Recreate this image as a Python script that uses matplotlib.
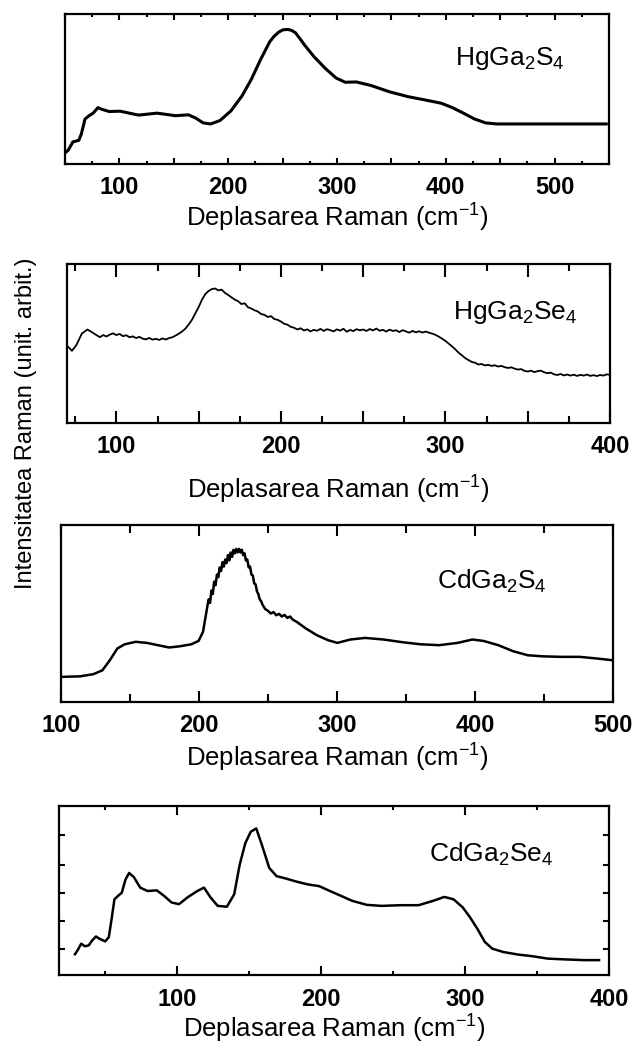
import matplotlib
matplotlib.use('Agg')
import matplotlib.pyplot as plt
from matplotlib.ticker import MultipleLocator, FixedLocator, NullLocator

plt.rcParams['font.family'] = ['Liberation Sans', 'DejaVu Sans']
plt.rcParams['mathtext.fontset'] = 'custom'
plt.rcParams['mathtext.rm'] = 'Liberation Sans'
plt.rcParams['mathtext.it'] = 'Liberation Sans:italic'
plt.rcParams['mathtext.bf'] = 'Liberation Sans:bold'

# Raman spectra, intensity in arbitrary units (0-100 of the plot height)
hgs_x = [50.5, 53, 57.2, 62.7, 65, 68.4, 71.8, 76, 80.3, 83.7, 90.5, 100.7, 117.6,
         134.6, 151.6, 163.4, 170.2, 177, 183.8, 192.3, 202.5, 212.6, 221.1, 229.6,
         238.1, 242, 246.6, 250.5, 255, 258.5, 261.8, 266, 270.3, 278.8, 289, 299.2,
         307.6, 317.8, 331.4, 348.4, 365.3, 382.3, 395.9, 406, 416.2, 426.4, 436.6,
         446.8, 547.5]
hgs_y = [7.7, 9.2, 14.7, 15.8, 20, 30, 32, 34, 37.6, 36.5, 35, 35.2, 32.6,
         33.9, 32.2, 32.8, 30.6, 27.4, 26.7, 28.9, 35.4, 45.3, 56.2, 69.4,
         81.4, 85, 88, 89.5, 89.7, 89, 87.5, 83.5, 79.2, 71.6, 63.9, 57.3,
         54.5, 54.7, 52.3, 48.1, 44.9, 42.5, 40.5, 37.6, 33.9, 30, 27.4,
         26.7, 26.7]

hgse_x = [70.7, 73, 75.7, 79, 82.4, 85.8, 88, 90, 92, 94, 96, 98, 100, 102, 104, 106,
          108, 110, 112, 114, 116, 118, 120, 122, 124, 126, 128, 130, 132, 134, 136,
          138, 140, 142, 144, 146, 148, 150, 152, 154, 156, 158, 160, 162, 164, 166,
          168, 170, 172, 174, 176, 178, 180, 182, 184, 186, 188, 190, 192, 194, 196,
          198, 200, 202, 204, 206, 208, 210, 212, 214, 216, 218, 220, 222, 224, 226,
          228, 230, 232, 234, 236, 238, 240, 242, 244, 246, 248, 250, 252, 254, 256,
          258, 260, 262, 264, 266, 268, 270, 272, 274, 276, 278, 280, 282, 284, 286,
          288, 290, 292, 294, 296, 298, 300, 302, 304, 306, 308, 310, 312, 314, 316,
          318, 320, 322, 324, 326, 328, 330, 332, 334, 336, 338, 340, 342, 344, 346,
          348, 350, 352, 354, 356, 358, 360, 362, 364, 366, 368, 370, 372, 374, 376,
          378, 380, 382, 384, 386, 388, 390, 392, 394, 396, 398, 399.5]
hgse_y = [47.9, 45.4, 49, 56.2, 58.8, 56.7, 55.2, 54.0, 55.3, 54.4, 55.6, 56.4, 55.3,
          56.0, 54.6, 55.2, 53.9, 54.5, 53.4, 54.2, 53.0, 52.6, 53.5, 52.4, 53.0, 52.2,
          53.2, 52.5, 53.4, 53.9, 55.0, 56.2, 57.6, 59.4, 62.0, 65.0, 69.0, 72.9, 77.5,
          81.0, 83.0, 84.2, 84.6, 83.4, 83.9, 81.8, 80.5, 79.0, 77.6, 76.6, 74.8, 75.3,
          72.8, 72.0, 70.9, 70.1, 68.5, 68.0, 66.7, 67.2, 65.4, 64.9, 63.8, 62.4, 61.8,
          60.5, 59.9, 58.8, 59.6, 58.2, 58.9, 57.6, 58.6, 58.0, 59.2, 57.9, 59.0, 58.4,
          57.6, 58.9, 58.1, 59.3, 57.4, 58.5, 57.8, 59.0, 58.3, 58.8, 57.9, 59.1, 58.2,
          59.4, 58.0, 58.6, 57.5, 58.7, 57.9, 58.3, 57.2, 58.4, 57.6, 56.8, 57.9, 57.0,
          57.7, 56.9, 57.5, 56.8, 56.2, 55.4, 54.3, 53.0, 51.6, 49.9, 48.2, 46.3, 44.2,
          42.6, 40.8, 39.6, 38.4, 37.9, 36.8, 37.1, 36.2, 36.6, 35.9, 36.3, 35.5, 35.9,
          35.1, 34.6, 35.0, 34.2, 33.6, 33.9, 32.8, 32.4, 32.9, 32.0, 32.6, 32.9, 31.9,
          31.3, 31.7, 30.6, 30.2, 30.8, 29.9, 30.5, 29.8, 30.4, 29.6, 30.3, 29.8, 30.5,
          29.6, 30.1, 29.5, 30.2, 29.8, 30.6, 30.4]

cds_x = [100.5, 113.9, 123.3, 130, 135.4, 140.8, 146.1, 154.2, 162.2, 170.2, 178.3,
         186.3, 194.4, 199.7, 202.9, 206, 207, 208, 209, 210, 211, 212, 213, 214, 215,
         216, 217, 218, 219, 220, 221, 222, 223, 224, 225, 226, 227, 228, 229, 230,
         231, 232, 233, 234, 235, 236, 237, 238, 239, 240, 241, 242, 243, 244, 245,
         246, 248, 250, 252, 254, 256, 258, 260, 262, 264, 266, 268, 270.8, 277.5,
         285.5, 293.6, 300.3, 309.7, 320.4, 333.8, 347.2, 360.6, 374, 387.4,
         398.1, 406.2, 416.9, 427.6, 438.3, 449.1, 462.5, 475.9, 489.3, 499.5]
cds_y = [14.2, 14.5, 15.7, 17.9, 23.6, 30.2, 32.6, 34, 33.4, 32.1, 30.8,
         31.5, 32.6, 34.5, 39.6, 53.8, 58, 56, 63, 61, 68, 66, 72, 70.5, 76,
         74, 79, 76.5, 80.5, 78.5, 83, 80, 84.5, 82, 86, 84, 86.5, 84.5, 86.5, 84.5,
         86, 83, 84, 80, 80.5, 76, 76.5, 72, 71.5, 67, 66.5, 62.5, 61, 58, 57,
         55, 52.5, 51.5, 50, 50.8, 49, 49.8, 48.3, 49.2, 47.5, 48.3, 46.5, 45.3, 41.5,
         37.7, 34.9, 33.4, 35.3, 36.2, 35.3, 33.8, 32.6, 32.1, 33.4,
         35.3, 34.5, 32.1, 28.7, 26.4, 25.8, 25.5, 25.5, 24.5, 23.6]

cdse_x = [29.1, 30.9, 33.4, 36, 38.6, 41.1, 43.7, 46.2, 50.1, 52.6, 54.7, 56.5, 59,
          61.6, 64.2, 66.7, 70, 74.4, 79.5, 85.9, 91, 96.2, 101.3, 107.7, 114.1,
          118.7, 123, 128.2, 134.6, 139.7, 143.5, 147.4, 151.2, 155, 158.9, 164,
          169.1, 175.5, 183.2, 190.9, 198.6, 206.2, 213.9, 221.6, 231.8, 242.1,
          254.9, 267.7, 277.9, 285.6, 292, 298.4, 303.5, 308.6, 313.8, 318.9,
          326.6, 336.8, 347, 357.3, 370.1, 382.9, 393.1]
cdse_y = [12.3, 14.6, 18.5, 17, 17.5, 20.5, 22.8, 21.4, 19.9, 22.4, 34.1, 44.8, 46.8,
          48.7, 56.5, 60.4, 57.9, 51.7, 49.7, 50.1, 46.8, 42.9, 41.9, 46.2, 49.7,
          51.7, 46.2, 40.9, 40.4, 47.8, 65.3, 78, 84.8, 86.7, 77, 63.4,
          58.5, 57.1, 55.2, 53.6, 52.6, 49.7, 46.8, 43.9, 41.5, 40.9,
          41.3, 41.3, 43.9, 46.2, 44.8, 40, 34.1, 27.3, 19.5, 15.6,
          13.6, 12.1, 11.1, 9.7, 9.2, 8.8, 8.8]

xlabel = 'Deplasarea Raman (cm$\\mathregular{^{-1}}$)'
ylabel = 'Intensitatea Raman (unit. arbit.)'

W, H = 632, 1050
fig = plt.figure(figsize=(W / 100, H / 100), dpi=100)


def panel(box, x, y, xlim, major, minor, ticks, name, name_pos, lw,
          major_len, minor_len, labelpad, yticks=None):
    left, top, right, bottom = box
    ax = fig.add_axes([left / W, 1 - bottom / H, (right - left) / W, (bottom - top) / H])
    ax.plot(x, y, color='black', lw=lw, solid_joinstyle='round')
    ax.set_xlim(*xlim)
    ax.set_ylim(0, 100)
    ax.xaxis.set_major_locator(MultipleLocator(major))
    ax.xaxis.set_minor_locator(MultipleLocator(minor))
    ax.xaxis.set_major_formatter(
        plt.FuncFormatter(lambda v, p: f'{v:.0f}' if round(v) in ticks else ''))
    if yticks is None:
        ax.yaxis.set_major_locator(NullLocator())
    else:
        ax.yaxis.set_major_locator(FixedLocator(yticks))
        ax.set_yticklabels([])
    ax.yaxis.set_minor_locator(NullLocator())
    ax.tick_params(axis='x', which='major', direction='in', top=True, length=major_len,
                   width=1.5, labelsize=17, pad=9)
    ax.tick_params(axis='x', which='minor', direction='in', top=True, length=minor_len,
                   width=1.5)
    ax.tick_params(axis='y', which='major', direction='in', right=True, length=4,
                   width=1.5)
    for lab in ax.get_xticklabels():
        lab.set_fontweight('bold')
    for s in ax.spines.values():
        s.set_linewidth(1.6)
    ax.set_xlabel(xlabel, fontsize=18.5, labelpad=labelpad)
    ax.text(name_pos[0], name_pos[1], name, transform=ax.transAxes, fontsize=19,
            va='center', ha='left')
    return ax


panel((65, 14, 609, 164), hgs_x, hgs_y, (50, 550), 50, 25, [100, 200, 300, 400, 500],
      '$\\mathregular{HgGa_2S_4}$', (0.716, 0.70), 2.2, 4.2, 2.4, 2)
panel((67, 264, 610, 423), hgse_x, hgse_y, (70, 400), 50, 25, [100, 200, 300, 400],
      '$\\mathregular{HgGa_2Se_4}$', (0.711, 0.694), 1.3, 9, 4.8, 11)
panel((61, 525, 613, 702), cds_x, cds_y, (100, 500), 100, 50, [100, 200, 300, 400, 500],
      '$\\mathregular{CdGa_2S_4}$', (0.682, 0.679), 1.8, 8, 6, 3)
panel((59, 806, 609, 975), cdse_x, cdse_y, (18, 400), 100, 50, [100, 200, 300, 400],
      '$\\mathregular{CdGa_2Se_4}$', (0.672, 0.711), 1.8, 6.5, 3, 2,
      yticks=[15.6, 32.2, 48.8, 65.3, 82.8])

fig.text(25.7 / W, 1 - 423 / H, ylabel, rotation=90, fontsize=17, ha='center', va='center')

fig.savefig('out.png', dpi=100)
